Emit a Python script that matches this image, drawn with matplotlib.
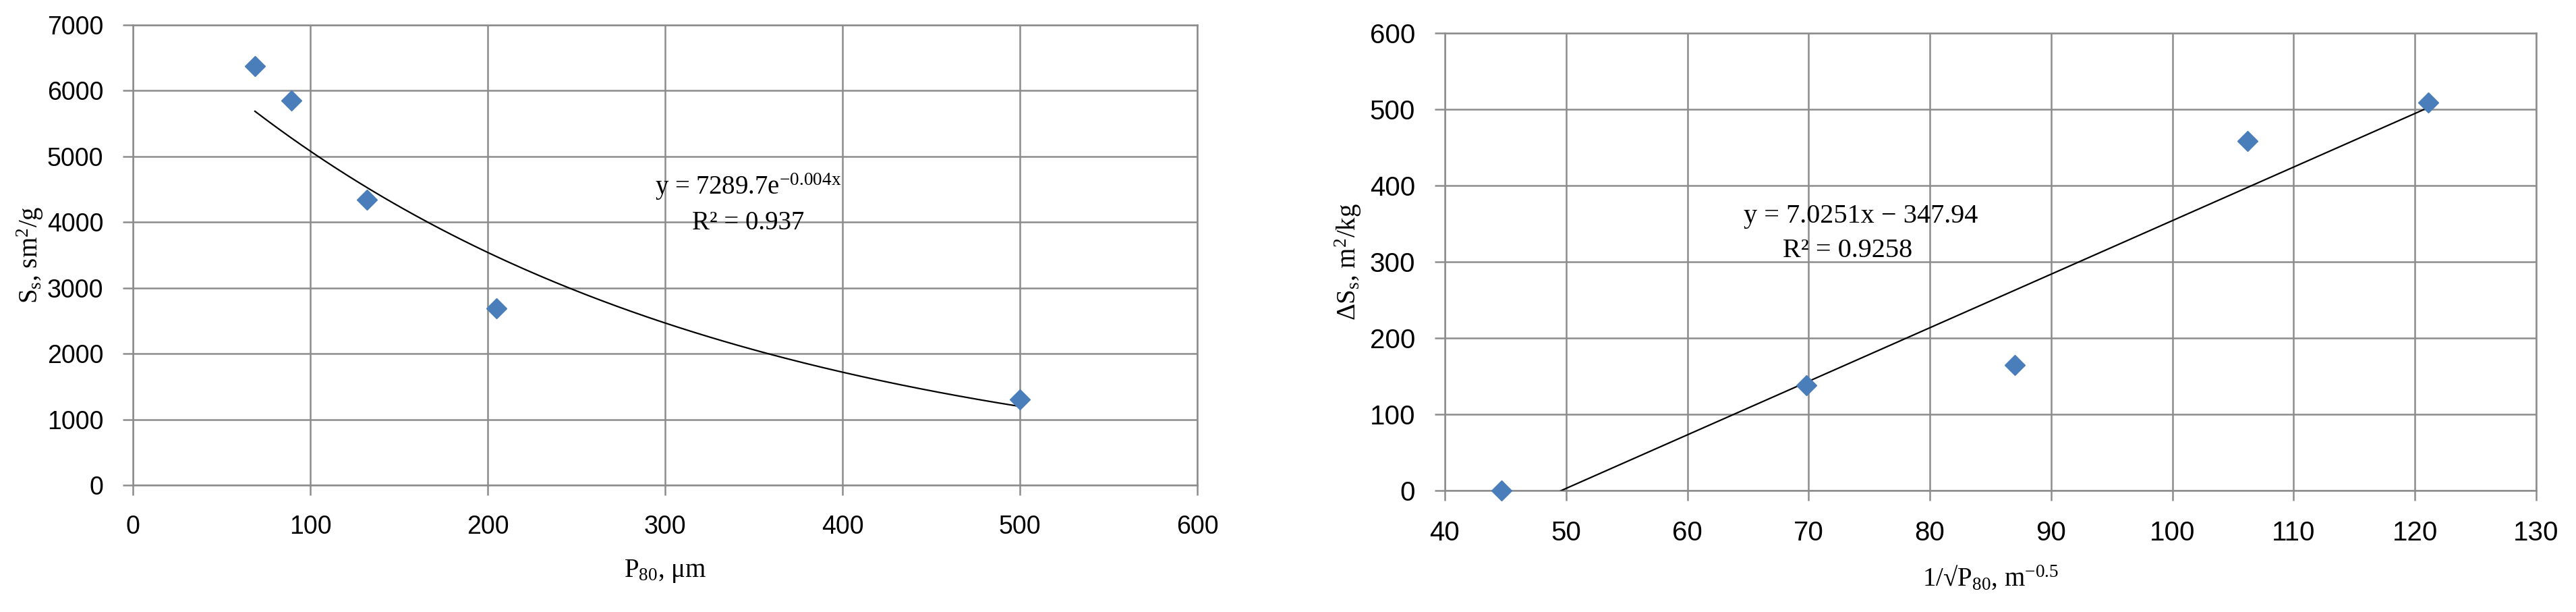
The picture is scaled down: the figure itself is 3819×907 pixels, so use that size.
import numpy as np
import matplotlib
matplotlib.use("Agg")
import matplotlib.pyplot as plt

# data
p80 = [68.8, 89.5, 132, 205, 500]           # µm
ss = [6370, 5850, 4340, 2690, 1300]         # sm2/g
inv_sqrt_p80 = [44.7, 69.8, 87.0, 106.2, 121.1]
dss = [0, 138, 165, 458, 509]               # m2/kg

eq_left = ["y = 7289.7e$\\mathregular{^{-0.004x}}$", "R\u00b2 = 0.937"]
eq_right = ["y = 7.0251x \u2212 347.94", "R\u00b2 = 0.9258"]

W, H = 3819, 907
plt.rcParams['mathtext.fontset'] = 'custom'
plt.rcParams['mathtext.rm'] = 'Liberation Serif'
plt.rcParams['mathtext.it'] = 'Liberation Serif:italic'

blue = '#4a7ebb'
grid_c = '#8c8c8c'
serif = 'Liberation Serif'
sans = 'Liberation Sans'

fig = plt.figure(figsize=(W / 100, H / 100), dpi=100)
ax1 = fig.add_axes([197 / W, 1 - 719 / H, (1775 - 197) / W, (719 - 37) / H])
ax2 = fig.add_axes([2142 / W, 1 - 727 / H, (3760 - 2142) / W, (727 - 49) / H])


def style_axes(ax, fs):
    for sp in ax.spines.values():
        sp.set_color(grid_c)
        sp.set_linewidth(1.8)
    ax.grid(True, color=grid_c, linewidth=1.8)
    ax.set_axisbelow(True)
    ax.tick_params(direction='out', length=10.5, width=1.8, color=grid_c,
                   labelsize=fs, pad=21)
    for lab in ax.get_xticklabels() + ax.get_yticklabels():
        lab.set_fontfamily(sans)


# left: S_s vs P80 with exponential trend
ax1.set_xlim(0, 600)
ax1.set_ylim(0, 7000)
ax1.set_xticks(np.arange(0, 601, 100))
ax1.set_yticks(np.arange(0, 7001, 1000))
style_axes(ax1, 27)

k, lnA = np.polyfit(p80, np.log(ss), 1)
xf = np.linspace(min(p80), max(p80), 200)
ax1.plot(xf, np.exp(lnA) * np.exp(k * xf), color='black', lw=1.6, zorder=3)
ax1.plot(p80, ss, linestyle='none', marker='D', ms=15.5, color=blue,
         markeredgecolor=blue, zorder=4)

ax1.text(347, 4424, eq_left[0], ha='center', va='baseline', fontsize=28,
         family=serif, zorder=5)
ax1.text(347, 3890, eq_left[1], ha='center', va='baseline', fontsize=28,
         family=serif, zorder=5)

ax1.set_xlabel("P$\\mathregular{_{80}}$, \u03bcm", fontsize=28, family=serif)
ax1.xaxis.set_label_coords(0.5, (719 - 847) / 682)
ax1.xaxis.label.set_va('center')
ax1.set_ylabel("S$\\mathregular{_{s}}$, sm$\\mathregular{^2}$/g", fontsize=28,
               family=serif)
ax1.yaxis.set_label_coords((45 - 197) / 1578, 0.5)
ax1.yaxis.label.set_va('center')

# right: delta S_s vs 1/sqrt(P80) with linear trend
ax2.set_xlim(40, 130)
ax2.set_ylim(0, 600)
ax2.set_xticks(np.arange(40, 131, 10))
ax2.set_yticks(np.arange(0, 601, 100))
style_axes(ax2, 29)

m, b = np.polyfit(inv_sqrt_p80, dss, 1)
xl = np.array([min(inv_sqrt_p80), max(inv_sqrt_p80)])
ax2.plot(xl, m * xl + b, color='black', lw=1.6, zorder=3)
ax2.plot(inv_sqrt_p80, dss, linestyle='none', marker='D', ms=15.5, color=blue,
         markeredgecolor=blue, zorder=4, clip_on=False)

ax2.text(74.3, 351, eq_right[0], ha='center', va='baseline', fontsize=29,
         family=serif, zorder=5)
ax2.text(73.2, 306, eq_right[1], ha='center', va='baseline', fontsize=29,
         family=serif, zorder=5)

ax2.set_xlabel("1/\u221aP$\\mathregular{_{80}}$, m$\\mathregular{^{-0.5}}$",
               fontsize=28, family=serif)
ax2.xaxis.set_label_coords(0.5, (727 - 857) / 678)
ax2.xaxis.label.set_va('center')
ax2.set_ylabel("\u0394S$\\mathregular{_{s}}$, m$\\mathregular{^2}$/kg",
               fontsize=28, family=serif)
ax2.yaxis.set_label_coords((1999 - 2142) / 1618, 0.5)
ax2.yaxis.label.set_va('center')

fig.savefig("out.png", dpi=100, facecolor='white')
